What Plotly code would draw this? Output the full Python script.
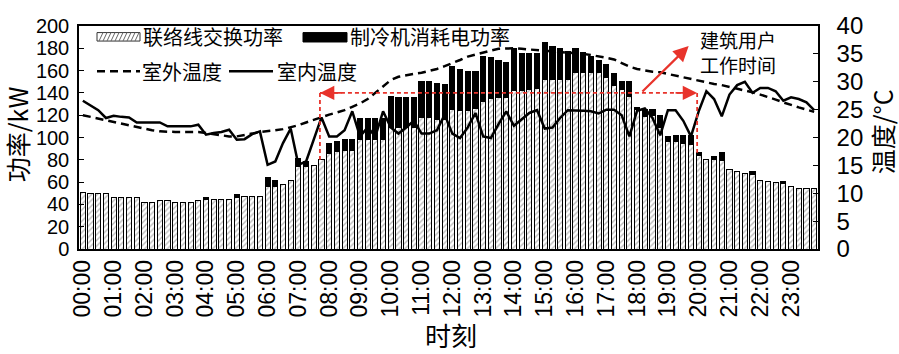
import plotly.graph_objects as go

# ---------------- data ----------------
hours = ["%02d:00" % h for h in range(24)]
slots = list(range(96))  # 15-min slots

tie_line_power = [51, 50, 50, 50, 46, 46, 46, 46, 42, 42, 43.5, 43.5, 42, 42, 42, 43.5,
                  44, 44.5, 44.5, 44.5, 46, 47.5, 47.5, 47.5, 56, 56, 57.5, 61, 74, 74, 75, 80,
                  86, 87.5, 88, 88, 98, 98, 98, 98, 109, 109, 109, 109, 117.5, 117.5, 116, 116,
                  125, 124, 124, 126, 132, 135, 136, 136, 142, 142, 143, 144, 152, 152, 152, 152,
                  158, 158, 158, 158, 154, 147, 143, 137, 125, 119, 120, 109, 96.5, 96.5, 95, 94,
                  84, 80.7, 80, 79, 71.4, 69.5, 68, 67, 61.6, 60.2, 59.4, 58.5, 56, 54.6, 54.6, 54.6]

total_power = [51, 50, 50, 50, 46, 46, 46, 46, 42, 42, 43.5, 43.5, 42, 42, 42, 43.5,
               46, 44.5, 44.5, 44.5, 49, 47.5, 47.5, 47.5, 64, 61, 57.5, 61, 81, 78.5, 75, 80,
               95, 96.5, 98.5, 98.5, 117, 117, 117, 117, 137, 136, 136, 136, 150.5, 150, 148, 147.5,
               163.5, 161, 159.5, 159, 173, 171.5, 169.5, 167.5, 179.5, 175, 175, 175, 185.5, 182, 180, 177,
               180, 176.5, 173, 169.5, 165.5, 157, 150, 150, 127, 125.5, 125.5, 120, 101, 102, 102, 102,
               86.3, 80.7, 82.6, 86.3, 71.4, 69.5, 68, 69.5, 61.6, 60.2, 59.4, 60.8, 56, 54.6, 54.6, 54.6]

chiller_power = [round(t - h, 2) for t, h in zip(total_power, tie_line_power)]

outdoor_temp = [24.0, 23.7, 23.4, 23.1, 22.8, 22.5, 22.1, 21.8, 21.5, 21.3, 21.1, 21.0, 21.0, 21.0, 21.0, 21.0,
                20.8, 20.6, 20.4, 20.2, 20.2, 20.4, 20.7, 21.0, 21.1, 21.3, 21.5, 21.8, 22.2, 22.7, 23.2, 23.7,
                24.1, 24.5, 24.9, 25.5, 26.1, 26.9, 28.0, 29.2, 30.3, 30.9, 31.2, 31.4, 31.6, 31.9, 32.3, 32.8,
                33.3, 33.9, 34.5, 34.9, 35.3, 35.6, 35.9, 36.0, 36.0, 35.9, 35.8, 35.7, 35.6, 35.5, 35.4, 35.3,
                35.1, 35.0, 34.8, 34.6, 34.3, 34.0, 33.4, 32.7, 32.3, 32.0, 31.8, 31.7, 31.4, 31.0, 30.7, 30.4,
                30.2, 29.9, 29.6, 29.4, 29.1, 28.8, 28.5, 28.1, 27.7, 27.3, 26.8, 26.3, 25.8, 25.4, 25.0, 24.6]

indoor_temp = [26.6, 25.8, 24.9, 23.5, 23.9, 23.7, 23.6, 22.7, 22.7, 22.7, 22.7, 22.0, 22.0, 22.0, 22.0, 22.3,
               20.5, 20.8, 21.0, 21.4, 19.6, 19.7, 20.6, 21.1, 15.1, 15.7, 19.0, 21.6, 15.1, 15.7, 19.6, 23.6,
               20.2, 20.2, 21.3, 24.7, 20.2, 21.8, 20.2, 24.7, 21.8, 20.7, 21.8, 23.0, 20.7, 20.7, 21.3, 24.1,
               20.7, 19.9, 21.8, 24.4, 20.2, 19.9, 22.4, 24.7, 22.1, 23.2, 24.4, 24.9, 21.6, 21.8, 23.5, 24.9,
               24.9, 24.8, 24.7, 24.3, 25.0, 25.0, 24.0, 20.2, 24.8, 25.2, 23.5, 20.4, 24.9, 24.9, 23.0, 20.2,
               24.7, 28.3, 26.9, 23.8, 27.7, 29.4, 30.0, 28.0, 28.9, 28.9, 28.3, 26.6, 27.2, 26.9, 26.3, 24.9]

names = ["联络线交换功率", "制冷机消耗电功率", "室外温度", "室内温度"]
work_label = "建筑用户<br>工作时间"
work_start, work_end, work_level = 30.8, 79.8, 140   # 建筑用户工作时间 bracket
work_start_top, work_end_top = 80, 86.3

# ---------------- layout geometry ----------------
W, H = 899, 354
ML, MR, MT, MB = 79, 81, 12, 105
PW, PH = W - ML - MR, H - MT - MB


def px(x, y):
    return (x - ML) / PW, (H - MB - y) / PH


CJK = "Noto Sans CJK SC, Liberation Sans, sans-serif"
NUM = "Liberation Sans, Arial, sans-serif"
RED = "#e8332b"

fig = go.Figure()

# outdoor temp drawn first (underneath bars), on base temperature axis
fig.add_trace(go.Scatter(
    x=slots, y=outdoor_temp, name=names[2], yaxis="y", mode="lines", showlegend=False,
    line=dict(color="black", width=2.5, dash="8px,5px"),
))
fig.add_trace(go.Bar(
    x=slots, y=tie_line_power, name=names[0], yaxis="y2", showlegend=False,
    marker=dict(color="white", line=dict(color="black", width=1),
                pattern=dict(shape="/", fgcolor="#777", bgcolor="white", size=4, solidity=0.35)),
))
fig.add_trace(go.Bar(
    x=slots, y=chiller_power, name=names[1], yaxis="y2", showlegend=False,
    marker=dict(color="black", line=dict(color="black", width=1)),
))
fig.add_trace(go.Scatter(
    x=slots, y=indoor_temp, name=names[3], yaxis="y3", mode="lines", showlegend=False,
    line=dict(color="black", width=2.5),
))

shapes = []
annotations = []

# red bracket for working hours
dash_red = dict(color=RED, width=1.8, dash="4px,3px")
shapes.append(dict(type="line", xref="x", yref="y2", x0=work_start, x1=work_end,
                   y0=work_level, y1=work_level, line=dash_red))
shapes.append(dict(type="line", xref="x", yref="y2", x0=work_start, x1=work_start,
                   y0=work_level, y1=work_start_top, line=dash_red))
shapes.append(dict(type="line", xref="x", yref="y2", x0=work_end, x1=work_end,
                   y0=work_level, y1=work_end_top, line=dash_red))
for tip, tail in ((work_start, work_start + 3), (work_end, work_end - 3)):
    annotations.append(dict(x=tip, y=work_level, ax=tail, ay=work_level, xref="x", yref="y2",
                            axref="x", ayref="y2", text="", showarrow=True, arrowhead=2,
                            arrowsize=1.6, arrowwidth=1.8, arrowcolor=RED))
annotations.append(dict(x=78.7, y=182, ax=72.5, ay=work_level, xref="x", yref="y2",
                        axref="x", ayref="y2", text="", showarrow=True, arrowhead=2,
                        arrowsize=1.4, arrowwidth=2.2, arrowcolor=RED))
x, y = px(738, 39.5)
annotations.append(dict(x=x, y=y, xref="paper", yref="paper", text=work_label, showarrow=False,
                        font=dict(family=CJK, size=19, color="black"), align="center",
                        xanchor="center", yanchor="middle", borderpad=0))

# manual legend
x0, y0 = px(97, 28)
x1, y1 = px(140, 19)
shapes.append(dict(type="rect", xref="paper", yref="paper", x0=x0, x1=x1, y0=y0, y1=y1,
                   fillcolor="white", line=dict(color="#333", width=1)))
for k in range(99, 138, 4):
    a0, b0 = px(k, 28)
    a1, b1 = px(k + 4, 19)
    shapes.append(dict(type="line", xref="paper", yref="paper", x0=a0, x1=a1, y0=b0, y1=b1,
                       line=dict(color="#666", width=1)))
x0, y0 = px(303, 29)
x1, y1 = px(347, 19)
shapes.append(dict(type="rect", xref="paper", yref="paper", x0=x0, x1=x1, y0=y0, y1=y1,
                   fillcolor="black", line=dict(color="black", width=1)))
x0, y0 = px(97, 60)
x1, _ = px(140, 60)
shapes.append(dict(type="line", xref="paper", yref="paper", x0=x0, x1=x1, y0=y0, y1=y0,
                   line=dict(color="black", width=2.5, dash="8px,5px")))
x0, y0 = px(229, 60)
x1, _ = px(273, 60)
shapes.append(dict(type="line", xref="paper", yref="paper", x0=x0, x1=x1, y0=y0, y1=y0,
                   line=dict(color="black", width=2.5)))
for txt, lx, ly in ((names[0], 142, 23), (names[1], 349, 23), (names[2], 141, 60), (names[3], 276, 60)):
    x, y = px(lx, ly)
    annotations.append(dict(x=x, y=y, xref="paper", yref="paper", text=txt, showarrow=False,
                            font=dict(family=CJK, size=20, color="black"),
                            xanchor="left", yanchor="middle", borderpad=0))

# axis titles
for txt, ax_, ay_, ang, fs in (("功率/kW", 17, 127, -90, 25), ("温度/°C", 882, 125, -90, 25),
                               ("时刻", 451, 340, 0, 26)):
    x, y = px(ax_, ay_)
    annotations.append(dict(x=x, y=y, xref="paper", yref="paper", text=txt, showarrow=False,
                            textangle=ang, font=dict(family=CJK, size=fs, color="black"),
                            xanchor="center", yanchor="middle", borderpad=0))

fig.update_layout(
    width=W, height=H, margin=dict(l=ML, r=MR, t=MT, b=MB),
    paper_bgcolor="white", plot_bgcolor="white",
    barmode="stack", bargap=0.33,
    showlegend=False,
    xaxis=dict(range=[-0.5, 95.5], tickmode="array", tickvals=slots[::4], ticktext=hours,
               tickangle=-90, ticks="", showline=True, linecolor="black", linewidth=1.5,
               mirror=True, showgrid=False, zeroline=False,
               tickfont=dict(family=NUM, size=23, color="black")),
    yaxis=dict(range=[0, 40], dtick=5, side="right", ticks="inside",
               ticklen=5, tickwidth=1, tickcolor="black", showline=True, linecolor="black",
               linewidth=1.5, showgrid=False, zeroline=False, ticklabelstandoff=12,
               tickfont=dict(family=NUM, size=24, color="black")),
    yaxis2=dict(range=[0, 200], dtick=20, side="left", overlaying="y", ticks="inside",
                ticklen=5, tickwidth=1, tickcolor="black", showline=True, linecolor="black",
                linewidth=1.5, showgrid=False, zeroline=False, ticklabelstandoff=4,
                tickfont=dict(family=NUM, size=20, color="black")),
    yaxis3=dict(range=[0, 40], overlaying="y", visible=False, showgrid=False, zeroline=False),
    shapes=shapes, annotations=annotations,
)

fig.write_html("out.html")
